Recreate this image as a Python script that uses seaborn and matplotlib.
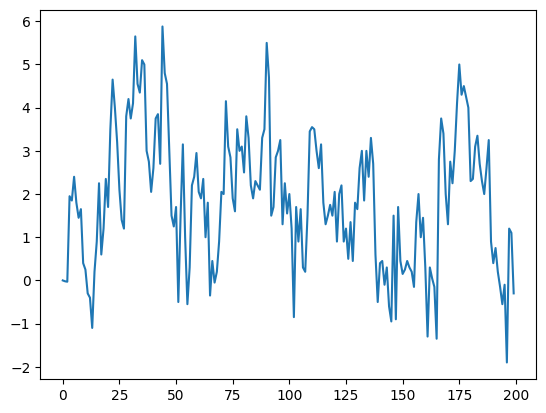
import numpy as np
import matplotlib
matplotlib.use("Agg")
import matplotlib.pyplot as plt
import seaborn as sns

values = [
    0.0, -0.02, -0.03, 1.95, 1.85, 2.4, 1.8, 1.45, 1.65, 0.4,
    0.25, -0.3, -0.4, -1.1, 0.2, 0.9, 2.25, 0.6, 1.2, 2.35,
    1.7, 3.5, 4.65, 4.0, 3.2, 2.1, 1.4, 1.2, 3.8, 4.2,
    3.75, 4.1, 5.65, 4.55, 4.35, 5.1, 5.0, 3.0, 2.75, 2.05,
    2.6, 3.75, 3.85, 2.7, 5.88, 4.8, 4.55, 3.0, 1.5, 1.25,
    1.7, -0.5, 1.5, 3.15, 1.0, -0.55, 0.3, 2.2, 2.4, 2.95,
    2.05, 1.9, 2.35, 1.0, 1.8, -0.35, 0.45, -0.05, 0.2, 0.9,
    2.05, 2.0, 4.15, 3.1, 2.85, 1.9, 1.6, 3.5, 3.0, 3.1,
    2.5, 3.8, 3.3, 2.2, 1.9, 2.3, 2.2, 2.1, 3.3, 3.5,
    5.5, 4.7, 1.5, 1.7, 2.85, 3.0, 3.25, 1.3, 2.25, 1.55,
    2.0, 1.2, -0.85, 1.7, 0.9, 1.65, 0.3, 0.2, 1.5, 3.45,
    3.55, 3.5, 3.0, 2.6, 3.15, 1.8, 1.3, 1.5, 1.75, 1.5,
    2.05, 0.9, 2.0, 2.2, 0.9, 1.2, 0.5, 1.35, 0.45, 1.8,
    1.65, 2.6, 3.0, 1.85, 3.0, 2.4, 3.3, 2.7, 0.6, -0.5,
    0.4, 0.45, -0.1, 0.3, -0.6, -0.95, 1.5, -0.9, 1.7, 0.45,
    0.15, 0.25, 0.45, 0.3, 0.2, -0.15, 1.35, 2.0, 1.0, 1.45,
    0.3, -1.3, 0.3, 0.05, -0.15, -1.35, 2.8, 3.75, 3.4, 2.0,
    1.3, 2.75, 2.25, 3.0, 4.1, 5.0, 4.3, 4.5, 4.25, 4.0,
    2.3, 2.35, 3.1, 3.35, 2.7, 2.3, 2.0, 2.6, 3.25, 0.9,
    0.4, 0.75, 0.2, -0.15, -0.55, -0.1, -1.9, 1.2, 1.1, -0.3,
]
steps = list(range(len(values)))

fig, ax = plt.subplots(figsize=(6.4, 4.8), dpi=100)
sns.lineplot(x=steps, y=values, ax=ax, color="#1f77b4", linewidth=1.5)
fig.savefig("out.png", dpi=100, bbox_inches="tight")
print(len(values))
